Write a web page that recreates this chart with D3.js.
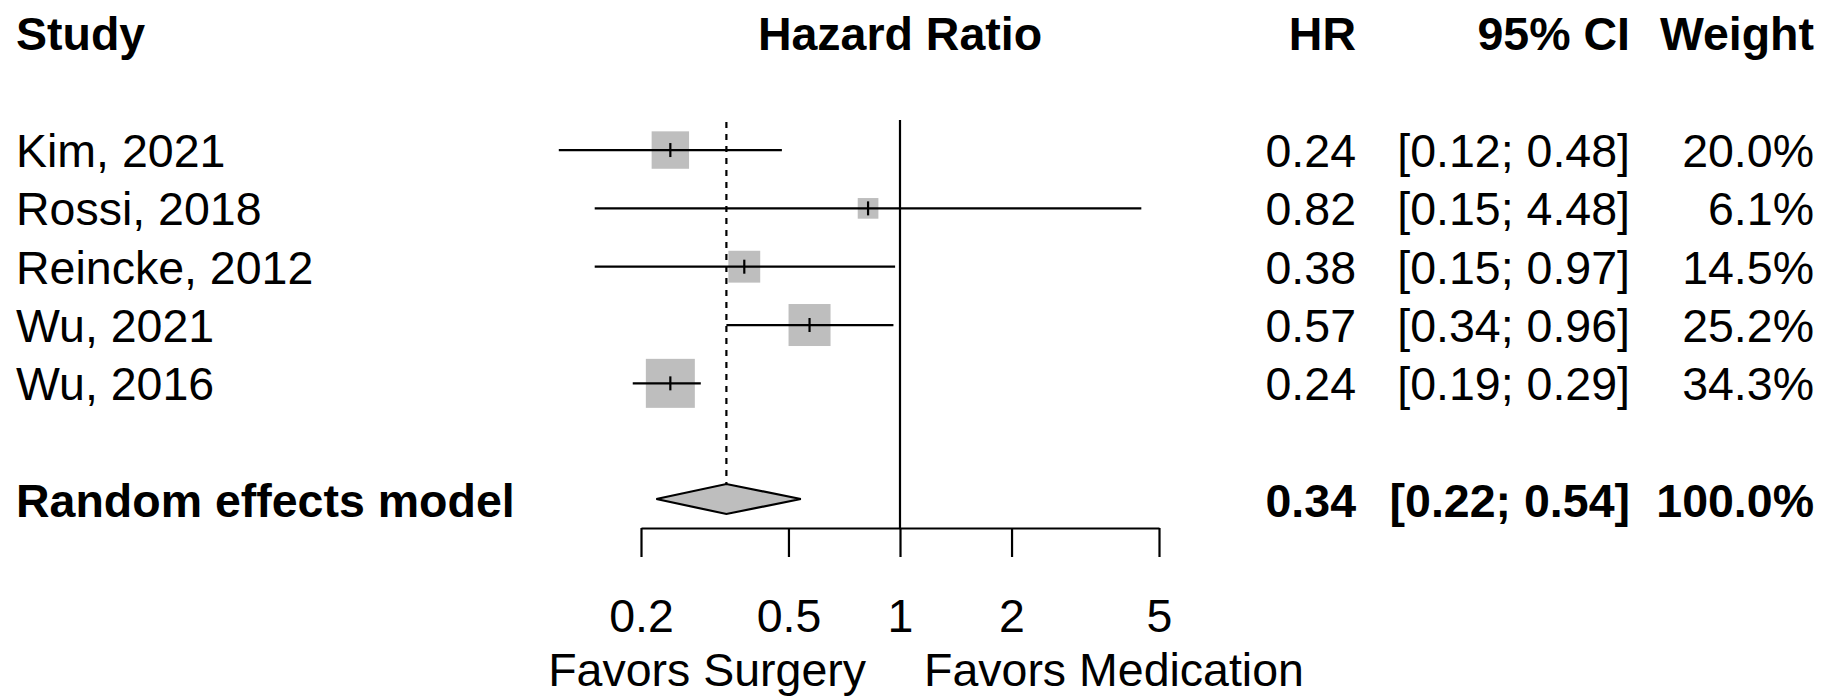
<!DOCTYPE html>
<html>
<head>
<meta charset="utf-8">
<script src="https://cdn.jsdelivr.net/npm/d3@7"></script>
<style>
  body { margin: 0; background: #fff; }
  svg { display: block; }
  text { font-family: "Liberation Sans", Arial, Helvetica, sans-serif; font-size: 46.5px; fill: #000; }
  .bold { font-weight: bold; }
</style>
</head>
<body>
<div id="chart"></div>
<script>
// study level data
const studies = ["Kim, 2021", "Rossi, 2018", "Reincke, 2012", "Wu, 2021", "Wu, 2016"];
const hr = [0.24, 0.82, 0.38, 0.57, 0.24];
const lower = [0.12, 0.15, 0.15, 0.34, 0.19];
const upper = [0.48, 4.48, 0.97, 0.96, 0.29];
const weights = [20.0, 6.1, 14.5, 25.2, 34.3];

// pooled estimate
const pooledLabel = "Random effects model";
const pooled = [0.34, 0.22, 0.54, 100.0]; // hr, lower, upper, weight

const tickValues = [0.2, 0.5, 1, 2, 5];
const labelLeft = "Favors Surgery";
const labelRight = "Favors Medication";

const width = 1827;
const height = 698;

const svg = d3
  .select("#chart")
  .append("svg")
  .attr("width", width)
  .attr("height", height);

const x = d3.scaleLog().domain([0.2, 5]).range([641, 1159]);
// rows: 0 header, 1 blank, 2..6 studies, 7 blank, 8 pooled
const y = d3.scaleLinear().domain([0, 8]).range([33.4, 500]);
const size = d3.scaleSqrt().domain([0, 34.3]).range([0, 49]);

const f2 = d3.format(".2f");
const pct = v => d3.format(".1f")(v) + "%";

const rows = studies.map((s, i) => ({
  name: s, hr: hr[i], lo: lower[i], hi: upper[i], w: weights[i], row: i + 2
}));

const colHR = 1356;
const colCI = 1630;
const colW = 1814;
const base = 17; // text baseline offset from row centre
const lw = 2.2;

// headers
const head = svg.append("g").attr("class", "bold");
head.append("text").attr("x", 16).attr("y", y(0) + base).text("Study");
head.append("text").attr("x", x(1)).attr("y", y(0) + base).attr("text-anchor", "middle").text("Hazard Ratio");
head.append("text").attr("x", colHR).attr("y", y(0) + base).attr("text-anchor", "end").text("HR");
head.append("text").attr("x", colCI).attr("y", y(0) + base).attr("text-anchor", "end").text("95% CI");
head.append("text").attr("x", colW).attr("y", y(0) + base).attr("text-anchor", "end").text("Weight");

// reference lines
svg.append("line")
  .attr("x1", x(1)).attr("x2", x(1))
  .attr("y1", 120).attr("y2", 528)
  .attr("stroke", "#000").attr("stroke-width", lw);

svg.append("line")
  .attr("x1", x(pooled[0])).attr("x2", x(pooled[0]))
  .attr("y1", 122).attr("y2", y(8) - 16)
  .attr("stroke", "#000").attr("stroke-width", lw)
  .attr("stroke-dasharray", "6,6");

// study rows
const g = svg.selectAll(".study").data(rows).enter().append("g").attr("class", "study");

g.append("text").attr("x", 16).attr("y", d => y(d.row) + base).text(d => d.name);

g.append("rect")
  .attr("x", d => x(d.hr) - size(d.w) / 2)
  .attr("y", d => y(d.row) - size(d.w) / 2)
  .attr("width", d => size(d.w))
  .attr("height", d => size(d.w))
  .attr("fill", "#bebebe");

g.append("line")
  .attr("x1", d => x(d.lo)).attr("x2", d => x(d.hi))
  .attr("y1", d => y(d.row)).attr("y2", d => y(d.row))
  .attr("stroke", "#000").attr("stroke-width", lw);

g.append("line")
  .attr("x1", d => x(d.hr)).attr("x2", d => x(d.hr))
  .attr("y1", d => y(d.row) - 7).attr("y2", d => y(d.row) + 7)
  .attr("stroke", "#000").attr("stroke-width", lw);

g.append("text").attr("x", colHR).attr("y", d => y(d.row) + base)
  .attr("text-anchor", "end").text(d => f2(d.hr));
g.append("text").attr("x", colCI).attr("y", d => y(d.row) + base)
  .attr("text-anchor", "end").text(d => `[${f2(d.lo)}; ${f2(d.hi)}]`);
g.append("text").attr("x", colW).attr("y", d => y(d.row) + base)
  .attr("text-anchor", "end").text(d => pct(d.w));

// pooled row
const yp = y(8) - 1;
svg.append("path")
  .attr("d", d3.line()([
    [x(pooled[1]), yp], [x(pooled[0]), yp - 15],
    [x(pooled[2]), yp], [x(pooled[0]), yp + 15]
  ]) + "Z")
  .attr("fill", "#bebebe").attr("stroke", "#000").attr("stroke-width", lw);

const pg = svg.append("g").attr("class", "bold");
pg.append("text").attr("x", 16).attr("y", y(8) + base).text(pooledLabel);
pg.append("text").attr("x", colHR).attr("y", y(8) + base).attr("text-anchor", "end").text(f2(pooled[0]));
pg.append("text").attr("x", colCI).attr("y", y(8) + base).attr("text-anchor", "end")
  .text(`[${f2(pooled[1])}; ${f2(pooled[2])}]`);
pg.append("text").attr("x", colW).attr("y", y(8) + base).attr("text-anchor", "end").text(pct(pooled[3]));

// x axis
const axis = d3.axisBottom(x)
  .tickValues(tickValues)
  .tickFormat(d3.format("~g"))
  .tickSize(29)
  .tickSizeOuter(0)
  .tickPadding(0);

const ax = svg.append("g").attr("transform", "translate(0,528)").call(axis);
ax.select(".domain").attr("stroke", "#000").attr("stroke-width", lw);
ax.selectAll(".tick line").attr("stroke", "#000").attr("stroke-width", lw);
ax.selectAll(".tick text")
  .attr("y", 104).attr("dy", null)
  .style("font-size", "46.5px")
  .style("font-family", "'Liberation Sans', Arial, sans-serif")
  .attr("fill", "#000");

svg.append("text").attr("x", 866).attr("y", 686).attr("text-anchor", "end").text(labelLeft);
svg.append("text").attr("x", 924).attr("y", 686).text(labelRight);
</script>
</body>
</html>
